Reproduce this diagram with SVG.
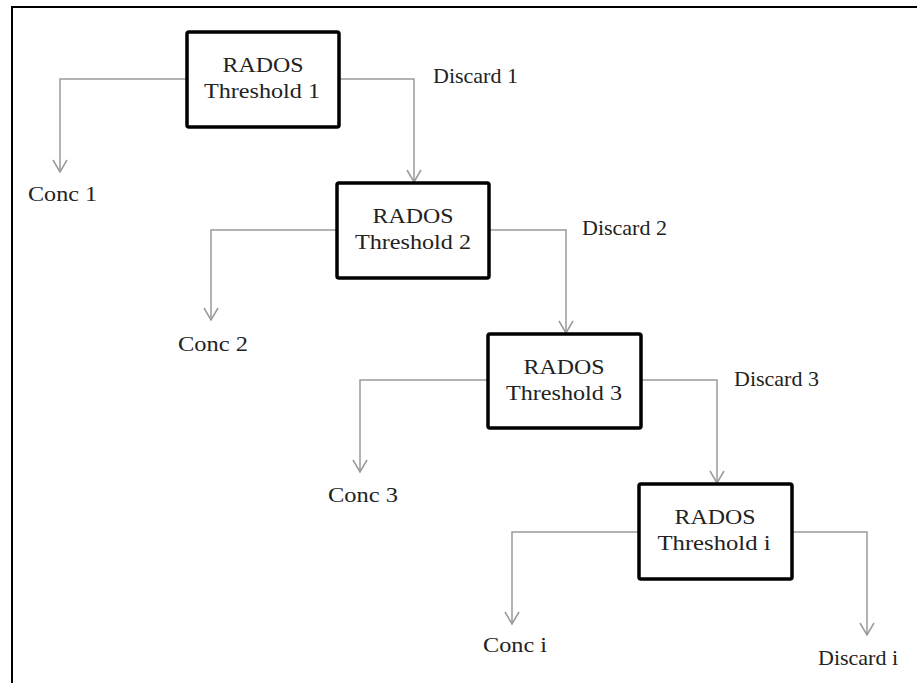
<svg xmlns="http://www.w3.org/2000/svg" width="917" height="683" viewBox="0 0 917 683">
<defs>
<marker id="arr" markerUnits="userSpaceOnUse" viewBox="-14 -9 16 18" markerWidth="16" markerHeight="18" refX="0" refY="0" orient="auto">
<path d="M-12,-7 L0,0 L-12,7" fill="none" stroke="#9a9a9a" stroke-width="1.5"/>
</marker>
<style>
.box{fill:#fff;stroke:#000;stroke-width:3.5}
.t{font-family:"Liberation Serif","Times New Roman",serif;font-size:22px;fill:#222}
.c{text-anchor:middle}
.ln{fill:none;stroke:#9a9a9a;stroke-width:1.5;marker-end:url(#arr)}
</style>
</defs>
<rect width="917" height="683" fill="#fff"/>
<path d="M12,683 V7 H917" fill="none" stroke="#000" stroke-width="2"/>
<g id="connectors">
<path class="ln" d="M187,79 H60 V172"/>
<path class="ln" d="M339,79 H414 V182"/>
<path class="ln" d="M337,230 H211 V320"/>
<path class="ln" d="M489,230 H566 V333"/>
<path class="ln" d="M488,380 H360 V472"/>
<path class="ln" d="M641,380 H717 V483"/>
<path class="ln" d="M639,532 H512 V624"/>
<path class="ln" d="M792,532 H867 V635"/>
</g>
<g id="node1">
<rect class="box" x="187" y="32" width="152" height="95" rx="2"/>
<text class="t c" x="263" y="72" textLength="81" lengthAdjust="spacingAndGlyphs">RADOS</text>
<text class="t c" x="262" y="98" textLength="116" lengthAdjust="spacingAndGlyphs">Threshold 1</text>
</g>
<g id="node2">
<rect class="box" x="337" y="183" width="152" height="95" rx="2"/>
<text class="t c" x="413" y="223" textLength="81" lengthAdjust="spacingAndGlyphs">RADOS</text>
<text class="t c" x="413" y="249" textLength="116" lengthAdjust="spacingAndGlyphs">Threshold 2</text>
</g>
<g id="node3">
<rect class="box" x="488" y="334" width="153" height="94" rx="2"/>
<text class="t c" x="564" y="374" textLength="81" lengthAdjust="spacingAndGlyphs">RADOS</text>
<text class="t c" x="564" y="400" textLength="116" lengthAdjust="spacingAndGlyphs">Threshold 3</text>
</g>
<g id="node4">
<rect class="box" x="639" y="484" width="153" height="95" rx="2"/>
<text class="t c" x="715" y="524" textLength="81" lengthAdjust="spacingAndGlyphs">RADOS</text>
<text class="t c" x="714" y="550" textLength="113" lengthAdjust="spacingAndGlyphs">Threshold i</text>
</g>
<g id="labels">
<text class="t" x="28" y="201" textLength="69" lengthAdjust="spacingAndGlyphs">Conc 1</text>
<text class="t" x="433" y="83">Discard 1</text>
<text class="t" x="178" y="351" textLength="70" lengthAdjust="spacingAndGlyphs">Conc 2</text>
<text class="t" x="582" y="235">Discard 2</text>
<text class="t" x="328" y="502" textLength="70" lengthAdjust="spacingAndGlyphs">Conc 3</text>
<text class="t" x="734" y="386">Discard 3</text>
<text class="t" x="483" y="652" textLength="64" lengthAdjust="spacingAndGlyphs">Conc i</text>
<text class="t" x="818" y="665">Discard i</text>
</g>
</svg>
